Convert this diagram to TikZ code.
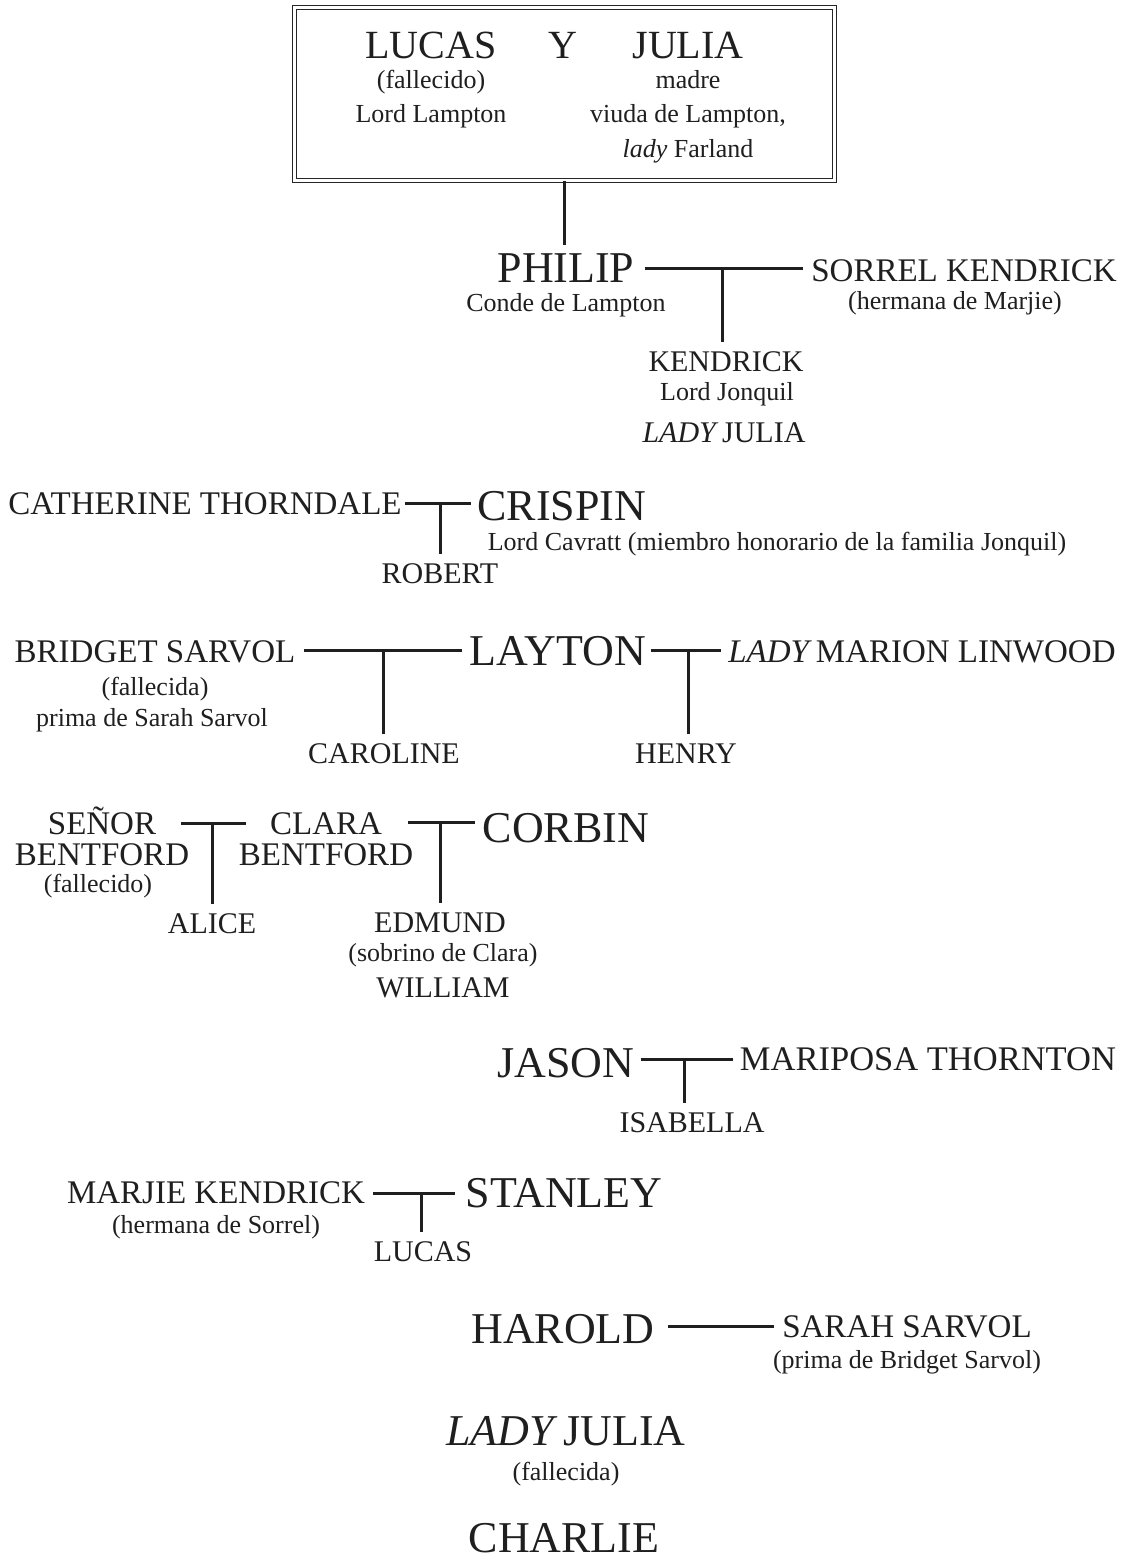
\documentclass[tikz,border=0pt]{standalone}
\usepackage{fontspec}
\setmainfont{Liberation Serif}
\newcommand{\ladyit}{\textit{LADY}\hspace{0.12em}}
\begin{document}
\begin{tikzpicture}[x=1pt,y=-1pt,
  txt/.style={inner sep=0pt, anchor=base, text=black!88},
  big/.style={txt, font=\fontsize{44}{48}\selectfont},
  boxname/.style={txt, font=\fontsize{40}{44}\selectfont},
  med/.style={txt, font=\fontsize{33}{36}\selectfont},
  kid/.style={txt, font=\fontsize{30}{34}\selectfont},
  sm/.style={txt, font=\fontsize{26}{30}\selectfont},
  ln/.style={line width=3pt, draw=black!88},
  stem/.style={line width=3pt, draw=black!88, shorten >=9pt}]
\useasboundingbox[fill=white] (0,0) rectangle (1127,1559);

% top box
\node[draw=black!85, double, line width=1.2pt, double distance=2.6pt, minimum width=540pt, minimum height=173pt, inner sep=0pt] (box) at (564.5,94) {};
\node[boxname] (lucas) at (431,58) {LUCAS};
\node[boxname] (yy) at (563,58) {Y};
\node[boxname] (julia) at (688,58) {JULIA};
\node[sm] (lfall) at (431,88) {(fallecido)};
\node[sm] (llord) at (431,122) {Lord Lampton};
\node[sm] (jmadre) at (688,88) {madre};
\node[sm] (jviuda) at (688,122) {viuda de Lampton,};
\node[sm] (jlady) at (688,157) {\textit{lady} Farland};

% Philip
\node[big] (philip) at (566,282) {PHILIP};
\node[sm] (conde) at (566,311) {Conde de Lampton};
\node[med] (sorrel) at (964,281) {SORREL KENDRICK};
\node[sm] (hermM) at (955,309) {(hermana de Marjie)};
\node[kid] (kendrick) at (726,371) {KENDRICK};
\node[sm] (jonquil) at (727,400) {Lord Jonquil};
\node[kid] (ladyjulia1) at (724,442) {\ladyit JULIA};
\coordinate (J1) at (722,268);
\draw[line width=3pt, draw=black!88, shorten >=8pt] (box.south) -- (box.south |- philip.north);
\draw[ln] ([xshift=10pt]philip.east |- J1) -- ([xshift=-8pt]sorrel.west |- J1);
\draw[stem] (J1) -- (J1 |- kendrick.north);

% Crispin
\node[med] (catherine) at (205,514) {CATHERINE THORNDALE};
\node[big] (crispin) at (562,520) {CRISPIN};
\node[sm] (cavratt) at (777,550) {Lord Cavratt (miembro honorario de la familia Jonquil)};
\node[kid] (robert) at (440,583) {ROBERT};
\coordinate (J2) at (440,503);
\draw[ln] ([xshift=3pt]catherine.east |- J2) -- ([xshift=-6pt]crispin.west |- J2);
\draw[stem] (J2) -- (J2 |- robert.north);

% Layton
\node[med] (bridget) at (155,662) {BRIDGET SARVOL};
\node[sm] (bfall) at (155,695) {(fallecida)};
\node[sm] (bprima) at (152,726) {prima de Sarah Sarvol};
\node[big] (layton) at (558,665) {LAYTON};
\node[med] (marion) at (922,662) {\ladyit MARION LINWOOD};
\node[kid] (caroline) at (384,763) {CAROLINE};
\node[kid] (henry) at (686,763) {HENRY};
\coordinate (J3) at (383,650);
\coordinate (J4) at (688,650);
\draw[ln] ([xshift=8pt]bridget.east |- J3) -- ([xshift=-8pt]layton.west |- J3);
\draw[stem] (J3) -- (J3 |- caroline.north);
\draw[ln] ([xshift=5pt]layton.east |- J4) -- ([xshift=-7pt]marion.west |- J4);
\draw[stem] (J4) -- (J4 |- henry.north);

% Corbin
\node[med] (senor) at (102,834) {SEÑOR};
\node[med] (sbent) at (102,865) {BENTFORD};
\node[sm] (sfall) at (98,892) {(fallecido)};
\node[med] (clara) at (326,834) {CLARA};
\node[med] (cbent) at (326,865) {BENTFORD};
\node[big] (corbin) at (566,842) {CORBIN};
\node[kid] (alice) at (212,933) {ALICE};
\node[kid] (edmund) at (440,932) {EDMUND};
\node[sm] (sobrino) at (443,961) {(sobrino de Clara)};
\node[kid] (william) at (443,997) {WILLIAM};
\coordinate (J5) at (212,823);
\coordinate (J6) at (440,822);
\draw[ln] ([xshift=25pt]senor.east |- J5) -- ([xshift=-24pt]clara.west |- J5);
\draw[stem] (J5) -- (J5 |- alice.north);
\draw[ln] ([xshift=26pt]clara.east |- J6) -- ([xshift=-8pt]corbin.west |- J6);
\draw[stem] (J6) -- (J6 |- edmund.north);

% Jason
\node[big] (jason) at (566,1077) {JASON};
\node[med, font=\fontsize{34.5}{38}\selectfont] (mariposa) at (928,1070) {MARIPOSA THORNTON};
\node[kid] (isabella) at (692,1132) {ISABELLA};
\coordinate (J7) at (684,1059);
\draw[ln] ([xshift=6pt]jason.east |- J7) -- ([xshift=-7pt]mariposa.west |- J7);
\draw[stem] (J7) -- (J7 |- isabella.north);

% Stanley
\node[med] (marjie) at (216,1203) {MARJIE KENDRICK};
\node[sm] (hermS) at (216,1233) {(hermana de Sorrel)};
\node[big] (stanley) at (564,1207) {STANLEY};
\node[kid] (lucas2) at (423,1261) {LUCAS};
\coordinate (J8) at (421,1193);
\draw[ln] ([xshift=8pt]marjie.east |- J8) -- ([xshift=-10pt]stanley.west |- J8);
\draw[stem] (J8) -- (J8 |- lucas2.north);

% Harold
\node[big] (harold) at (563,1343) {HAROLD};
\node[med] (sarah) at (907,1337) {SARAH SARVOL};
\node[sm] (primaB) at (907,1368) {(prima de Bridget Sarvol)};
\coordinate (J9) at (720,1326);
\draw[ln] ([xshift=13pt]harold.east |- J9) -- ([xshift=-8pt]sarah.west |- J9);

% Lady Julia, Charlie
\node[big] (ladyjulia2) at (566,1445) {\ladyit JULIA};
\node[sm] (jfall) at (566,1480) {(fallecida)};
\node[big] (charlie) at (564,1552) {CHARLIE};
\end{tikzpicture}
\end{document}
